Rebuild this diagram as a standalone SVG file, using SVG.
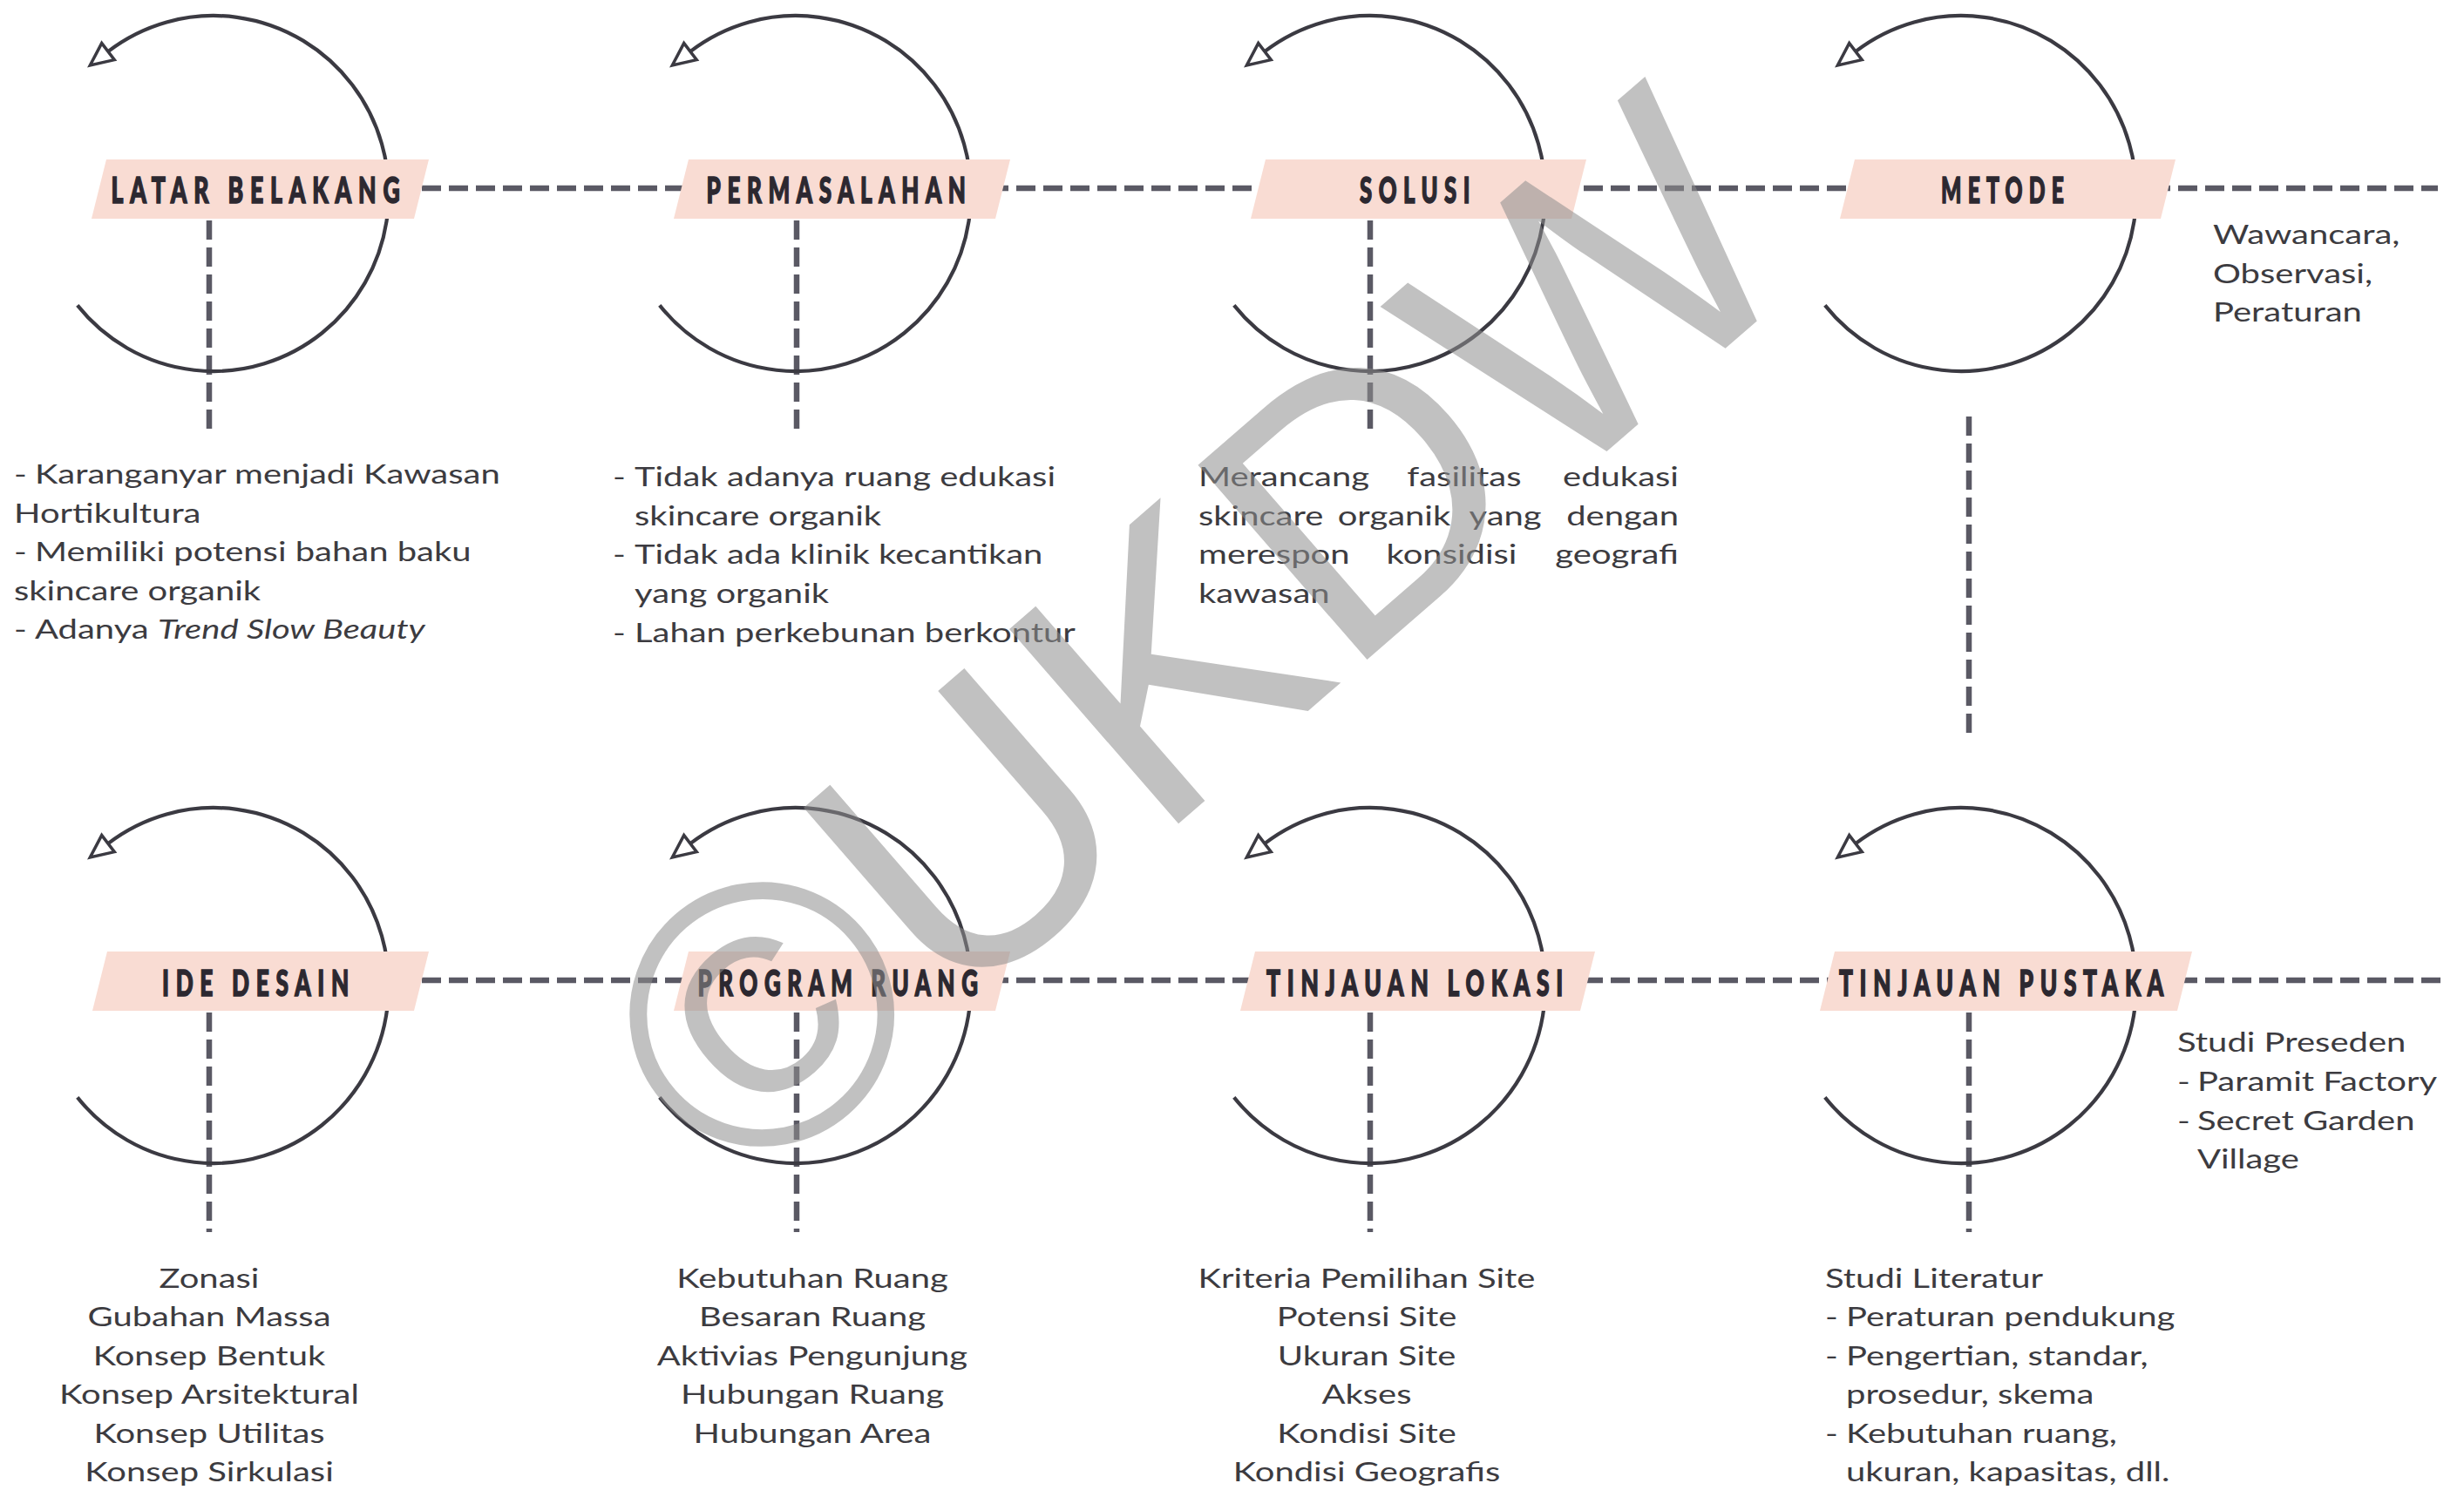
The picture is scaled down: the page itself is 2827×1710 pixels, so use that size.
<svg xmlns="http://www.w3.org/2000/svg" width="2827" height="1710" viewBox="0 0 2827 1710">
<style>
.arc{fill:none;stroke:#3b3a42;stroke-width:4.2;marker-end:url(#arrow)}
.dash{fill:none;stroke:#5a5964;stroke-width:6.5;stroke-dasharray:22 9}
.band{fill:#f9dcd3}
.lbl{font-family:Lato,Roboto,"Liberation Sans",sans-serif;font-weight:900;font-size:41px;fill:#2c2830;stroke:#2c2830;stroke-width:1.6px;letter-spacing:12px}
.tx{font-family:Lato,"Open Sans",sans-serif;font-size:31px;fill:#3c3b40}
.wm{font-family:"Liberation Sans",Arial,sans-serif;font-size:430px;fill:#8f8f8f;opacity:0.55}
</style>
<defs>
<marker id="arrow" markerUnits="userSpaceOnUse" viewBox="-4 -16 34 32" markerWidth="34" markerHeight="32" refX="0" refY="0" orient="auto" overflow="visible">
<path d="M0,-12 L26,0 L0,12 Z" fill="#ffffff" stroke="#3b3a42" stroke-width="3.5" stroke-linejoin="miter"/>
</marker>
</defs>
<rect width="2827" height="1710" fill="#ffffff"/>
<g id="connectors">
<line class="dash" x1="484" y1="216" x2="2797" y2="216"/>
<line class="dash" x1="484" y1="1125" x2="2805" y2="1125"/>
<line class="dash" x1="240" y1="253" x2="240" y2="497"/>
<line class="dash" x1="914" y1="253" x2="914" y2="497"/>
<line class="dash" x1="1572" y1="253" x2="1572" y2="497"/>
<line class="dash" x1="2259" y1="478" x2="2259" y2="847"/>
<line class="dash" x1="240" y1="1162" x2="240" y2="1414"/>
<line class="dash" x1="914" y1="1162" x2="914" y2="1414"/>
<line class="dash" x1="1572" y1="1162" x2="1572" y2="1414"/>
<line class="dash" x1="2259" y1="1162" x2="2259" y2="1414"/>
</g>
<g id="latar-belakang">
<path class="arc" d="M88.8,350.4 A201,204 0 1 0 124,59.1"/>
<polygon class="band" points="122,183 492,183 475,251 105,251"/>
<text class="lbl" x="297" y="233" text-anchor="middle" textLength="339" lengthAdjust="spacingAndGlyphs">LATAR BELAKANG</text>
<g class="tx" transform="translate(16,0) scale(1.29,1)">
<text y="555"><tspan x="0">-</tspan><tspan x="18.6">Karanganyar menjadi Kawasan</tspan></text>
<text x="0" y="600">Hortikultura</text>
<text y="644"><tspan x="0">-</tspan><tspan x="18.6">Memiliki potensi bahan baku</tspan></text>
<text x="0" y="689">skincare organik</text>
<text y="733"><tspan x="0">-</tspan><tspan x="18.6">Adanya </tspan><tspan font-style="italic">Trend Slow Beauty</tspan></text>
</g>
</g>
<g id="permasalahan">
<path class="arc" d="M756.8,350.4 A201,204 0 1 0 792,59.1"/>
<polygon class="band" points="790,183 1159,183 1142,251 773,251"/>
<text class="lbl" x="963" y="233" text-anchor="middle" textLength="305" lengthAdjust="spacingAndGlyphs">PERMASALAHAN</text>
<g class="tx" transform="translate(703,0) scale(1.29,1)">
<text y="558"><tspan x="0">-</tspan><tspan x="19.4">Tidak adanya ruang edukasi</tspan></text>
<text x="19.4" y="603">skincare organik</text>
<text y="647"><tspan x="0">-</tspan><tspan x="19.4">Tidak ada klinik kecantikan</tspan></text>
<text x="19.4" y="692">yang organik</text>
<text y="737"><tspan x="0">-</tspan><tspan x="19.4">Lahan perkebunan berkontur</tspan></text>
</g>
</g>
<g id="solusi">
<path class="arc" d="M1415.8,350.4 A201,204 0 1 0 1451,59.1"/>
<polygon class="band" points="1452,183 1820,183 1803,251 1435,251"/>
<text class="lbl" x="1627" y="233" text-anchor="middle" textLength="134" lengthAdjust="spacingAndGlyphs">SOLUSI</text>
<g class="tx" transform="translate(1375,0) scale(1.29,1)">
<text x="0" y="558">Merancang</text>
<text x="236.4" y="558" text-anchor="middle">fasilitas</text>
<text x="427.1" y="558" text-anchor="end">edukasi</text>
<text x="0" y="603">skincare</text>
<text x="174" y="603" text-anchor="middle">organik</text>
<text x="272.9" y="603" text-anchor="middle">yang</text>
<text x="427.1" y="603" text-anchor="end">dengan</text>
<text x="0" y="647">merespon</text>
<text x="225.2" y="647" text-anchor="middle">konsidisi</text>
<text x="427.1" y="647" text-anchor="end">geografi</text>
<text x="0" y="692">kawasan</text>
</g>
</g>
<g id="metode">
<path class="arc" d="M2093.8,350.4 A201,204 0 1 0 2129,59.1"/>
<polygon class="band" points="2128,183 2496,183 2479,251 2111,251"/>
<text class="lbl" x="2301" y="233" text-anchor="middle" textLength="148" lengthAdjust="spacingAndGlyphs">METODE</text>
<g class="tx" transform="translate(2539,0) scale(1.29,1)">
<text x="0" y="280">Wawancara,</text>
<text x="0" y="325">Observasi,</text>
<text x="0" y="369">Peraturan</text>
</g>
</g>
<g id="ide-desain">
<path class="arc" d="M88.8,1259.4 A201,204 0 1 0 124,968.1"/>
<polygon class="band" points="123,1092 492,1092 475,1160 106,1160"/>
<text class="lbl" x="297" y="1143" text-anchor="middle" textLength="222" lengthAdjust="spacingAndGlyphs">IDE DESAIN</text>
<g class="tx" transform="translate(240,0) scale(1.29,1)" text-anchor="middle">
<text x="0" y="1478">Zonasi</text>
<text x="0" y="1522">Gubahan Massa</text>
<text x="0" y="1567">Konsep Bentuk</text>
<text x="0" y="1611">Konsep Arsitektural</text>
<text x="0" y="1656">Konsep Utilitas</text>
<text x="0" y="1700">Konsep Sirkulasi</text>
</g>
</g>
<g id="program-ruang">
<path class="arc" d="M756.8,1259.4 A201,204 0 1 0 792,968.1"/>
<polygon class="band" points="790,1092 1159,1092 1142,1160 773,1160"/>
<text class="lbl" x="965" y="1143" text-anchor="middle" textLength="329" lengthAdjust="spacingAndGlyphs">PROGRAM RUANG</text>
<g class="tx" transform="translate(932,0) scale(1.29,1)" text-anchor="middle">
<text x="0" y="1478">Kebutuhan Ruang</text>
<text x="0" y="1522">Besaran Ruang</text>
<text x="0" y="1567">Aktivias Pengunjung</text>
<text x="0" y="1611">Hubungan Ruang</text>
<text x="0" y="1656">Hubungan Area</text>
</g>
</g>
<g id="tinjauan-lokasi">
<path class="arc" d="M1415.8,1259.4 A201,204 0 1 0 1451,968.1"/>
<polygon class="band" points="1440,1092 1830,1092 1813,1160 1423,1160"/>
<text class="lbl" x="1627" y="1143" text-anchor="middle" textLength="348" lengthAdjust="spacingAndGlyphs">TINJAUAN LOKASI</text>
<g class="tx" transform="translate(1568,0) scale(1.29,1)" text-anchor="middle">
<text x="0" y="1478">Kriteria Pemilihan Site</text>
<text x="0" y="1522">Potensi Site</text>
<text x="0" y="1567">Ukuran Site</text>
<text x="0" y="1611">Akses</text>
<text x="0" y="1656">Kondisi Site</text>
<text x="0" y="1700">Kondisi Geografis</text>
</g>
</g>
<g id="tinjauan-pustaka">
<path class="arc" d="M2093.8,1259.4 A201,204 0 1 0 2129,968.1"/>
<polygon class="band" points="2105,1092 2515,1092 2498,1160 2088,1160"/>
<text class="lbl" x="2300" y="1143" text-anchor="middle" textLength="380" lengthAdjust="spacingAndGlyphs">TINJAUAN PUSTAKA</text>
<g class="tx" transform="translate(2498,0) scale(1.29,1)">
<text x="0" y="1207">Studi Preseden</text>
<text y="1252"><tspan x="0">-</tspan><tspan x="17.8">Paramit Factory</tspan></text>
<text y="1297"><tspan x="0">-</tspan><tspan x="17.8">Secret Garden</tspan></text>
<text x="17.8" y="1341">Village</text>
</g>
<g class="tx" transform="translate(2094,0) scale(1.29,1)">
<text x="0" y="1478">Studi Literatur</text>
<text y="1522"><tspan x="0">-</tspan><tspan x="18.6">Peraturan pendukung</tspan></text>
<text y="1567"><tspan x="0">-</tspan><tspan x="18.6">Pengertian, standar,</tspan></text>
<text x="18.6" y="1611">prosedur, skema</text>
<text y="1656"><tspan x="0">-</tspan><tspan x="18.6">Kebutuhan ruang,</tspan></text>
<text x="18.6" y="1700">ukuran, kapasitas, dll.</text>
</g>
</g>
<text class="wm" transform="translate(852,1380) rotate(-41)" x="0" y="0">©UKDW</text>
</svg>
